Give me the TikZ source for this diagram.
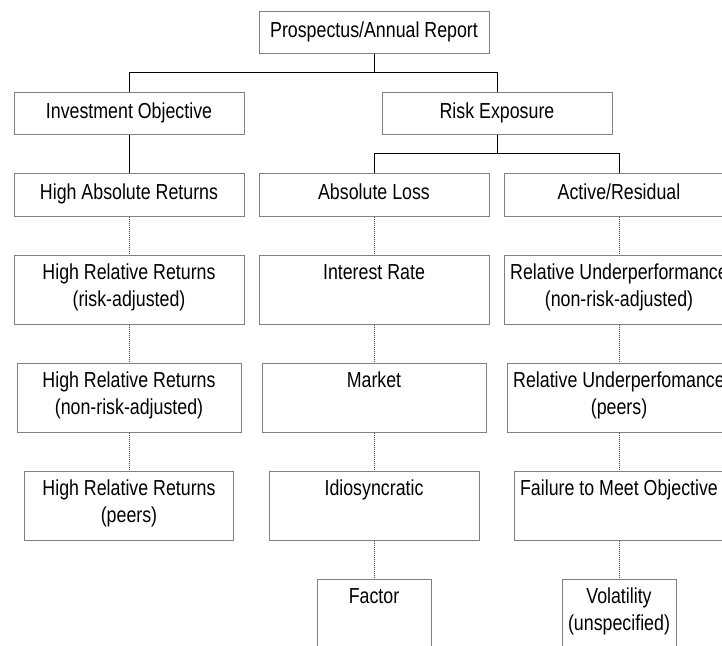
\documentclass[tikz,border=0pt]{standalone}
\usepackage{fontspec}
\setmainfont[FakeStretch=0.82]{Liberation Sans}
\usepackage{tikz}
\usetikzlibrary{positioning}

\begin{document}
\begin{tikzpicture}[node distance=38pt,
        box/.style={rectangle, draw=gray, line width=1pt, align=center, inner sep=0pt,
            minimum width=230pt, minimum height=42pt, font=\fontsize{21.7}{27}\selectfont,
            execute at begin node=\strut, execute at end node=\strut},
        tallbox/.style={box, minimum height=69pt},
        line/.style={draw, line width=1pt},
        dotline/.style={draw, line width=1pt, black!75, dash pattern=on 1pt off 1pt}]

        \clip (0,0) rectangle (722pt,-645pt);

        % Nodes
        \node [box] (report) at (374pt,-32pt) {Prospectus/Annual Report};
        \node [box, below=of report, xshift=-245pt] (objective) {Investment Objective};
        \node [box, below=of report, xshift=123pt] (exposure) {Risk Exposure};

        % left column
        \node [box, minimum height=43pt, below=of objective] (highabs) {High Absolute Returns};
        \node [tallbox, below=of highabs] (relrisk) {High Relative Returns\\(risk-adjusted)};
        \node [tallbox, minimum width=224pt, below=of relrisk] (relnonrisk) {High Relative Returns\\(non-risk-adjusted)};
        \node [tallbox, minimum width=209pt, below=of relnonrisk] (relpeers) {High Relative Returns\\(peers)};

        % middle column
        \node [box, minimum height=43pt, below=of exposure, xshift=-123pt] (absloss) {Absolute Loss};
        \node [tallbox, below=of absloss] (interest) {Interest Rate\\};
        \node [tallbox, minimum width=224pt, below=of interest] (market) {Market\\};
        \node [tallbox, minimum width=210pt, below=of market] (idio) {Idiosyncratic\\};
        \node [tallbox, minimum width=114pt, below=of idio] (factor) {Factor\\};

        % right column
        \node [box, minimum height=43pt, below=of exposure, xshift=122pt] (active) {Active/Residual};
        \node [tallbox, below=of active] (underrisk) {Relative Underperformance\\(non-risk-adjusted)};
        \node [tallbox, minimum width=224pt, below=of underrisk] (underpeers) {Relative Underperfomance\\(peers)};
        \node [tallbox, minimum width=210pt, below=of underpeers] (failure) {Failure to Meet Objective\\};
        \node [tallbox, minimum width=114pt, below=of failure] (volatility) {Volatility\\(unspecified)};

        % Edges
        \path [line] (report.south) -- ++(0,-19pt) -| (objective.north);
        \path [line] (report.south) -- ++(0,-19pt) -| (exposure.north);
        \path [line] (objective) -- (highabs);
        \path [line] (exposure.south) -- ++(0,-19pt) -| (absloss.north);
        \path [line] (exposure.south) -- ++(0,-19pt) -| (active.north);

        \path [dotline] (highabs) -- (relrisk);
        \path [dotline] (relrisk) -- (relnonrisk);
        \path [dotline] (relnonrisk) -- (relpeers);
        \path [dotline] (absloss) -- (interest);
        \path [dotline] (interest) -- (market);
        \path [dotline] (market) -- (idio);
        \path [dotline] (idio) -- (factor);
        \path [dotline] (active) -- (underrisk);
        \path [dotline] (underrisk) -- (underpeers);
        \path [dotline] (underpeers) -- (failure);
        \path [dotline] (failure) -- (volatility);
    \end{tikzpicture}
\end{document}
